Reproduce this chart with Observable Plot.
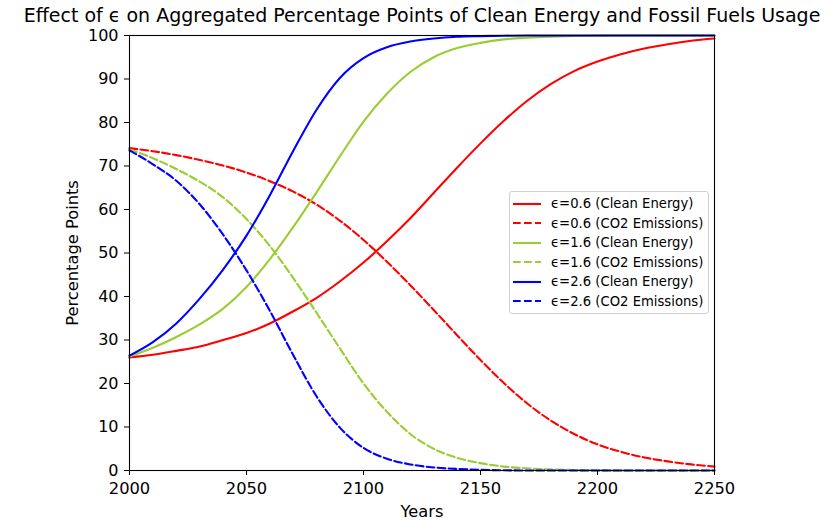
<!DOCTYPE html>
<html><head><meta charset="utf-8">
<script src="https://cdn.jsdelivr.net/npm/d3@7"></script>
<script src="https://cdn.jsdelivr.net/npm/@observablehq/plot@0.6"></script>
<style>
body{margin:0;background:#fff;font-family:"DejaVu Sans",sans-serif}
#wrap{position:relative;width:838px;height:520px}
#legend{position:absolute;left:509px;top:191px;width:198px;height:121px;border:1px solid #d0d0d0;border-radius:3px;background:rgba(255,255,255,0.85)}
.row{position:absolute;left:0;height:19px;display:flex;align-items:center;font-size:13.2px;color:#000;white-space:nowrap}
.row svg{margin-left:3px;margin-right:10px}
</style></head><body><div id="wrap"></div><script>
const years = [2000,2010,2020,2030,2040,2050,2060,2070,2080,2090,2100,2110,2120,2130,2140,2150,2160,2170,2180,2190,2200,2210,2220,2230,2240,2250];
const clean06 = [26.0,26.6,27.5,28.5,30.0,31.6,33.8,36.6,39.7,43.5,47.8,52.7,58.0,63.8,69.6,75.2,80.4,85.0,88.8,91.8,94.0,95.7,97.0,98.0,98.8,99.3];
const co2_06  = [74.1,73.4,72.5,71.4,70.1,68.5,66.5,64.1,61.1,57.4,53.0,48.0,42.6,36.9,31.1,25.4,20.1,15.4,11.5,8.4,6.0,4.3,3.0,2.1,1.4,0.9];
const clean16 = [26.2,28.2,30.7,33.6,37.2,42.2,48.6,56.0,64.0,72.3,80.2,86.6,91.6,95.0,97.1,98.3,99.1,99.5,99.75,99.9,99.95,100,100,100,100,100];
const co2_16  = [73.8,71.8,69.3,66.4,62.8,57.8,51.6,44.2,36.2,28.0,20.0,13.5,8.4,5.0,2.9,1.7,0.9,0.5,0.25,0.1,0.05,0,0,0,0,0];
const clean26 = [26.4,29.5,33.8,39.5,46.2,54.0,63.3,73.5,83.0,90.3,94.8,97.3,98.6,99.3,99.7,99.85,99.95,100,100,100,100,100,100,100,100,100];
const co2_26  = [73.6,70.4,66.6,61.2,54.2,46.0,36.7,26.5,17.0,9.8,5.2,2.7,1.4,0.7,0.35,0.15,0.05,0,0,0,0,0,0,0,0,0];
const labels = ["ϵ=0.6 (Clean Energy)","ϵ=0.6 (CO2 Emissions)","ϵ=1.6 (Clean Energy)","ϵ=1.6 (CO2 Emissions)","ϵ=2.6 (Clean Energy)","ϵ=2.6 (CO2 Emissions)"];
const colors = ["#ff0000","#ff0000","#9acd32","#9acd32","#0000ff","#0000ff"];
const dashed = [false,true,false,true,false,true];
const seriesVals = [clean06,co2_06,clean16,co2_16,clean26,co2_26];
const xTicks = [2000,2050,2100,2150,2200,2250];
const yTicks = [0,10,20,30,40,50,60,70,80,90,100];
const title = "Effect of ϵ on Aggregated Percentage Points of Clean Energy and Fossil Fuels Usage";

const lineMarks = seriesVals.map((vals,k) => Plot.line(vals, {
  x: (d,i) => years[i], y: d => d,
  stroke: colors[k], strokeWidth: 2.1,
  strokeDasharray: dashed[k] ? "7.7,3.3" : null,
  curve: "monotone-x"
}));

const chart = Plot.plot({
  width: 838, height: 520,
  marginLeft: 129, marginRight: 124, marginTop: 35, marginBottom: 50,
  style: {fontFamily: "DejaVu Sans", fontSize: "16px", color: "black", background: "white"},
  x: {domain: [2000, 2250]},
  y: {domain: [0, 100]},
  marks: [
    ...lineMarks,
    Plot.frame({stroke: "black", strokeWidth: 1.1}),
    Plot.axisX({ticks: xTicks, tickSize: 5, tickPadding: 6.5, tickFormat: d => String(d), label: null, fontSize: 16.3}),
    Plot.axisY({ticks: yTicks, tickSize: 5, tickPadding: 6, tickFormat: d => String(d), label: null, fontSize: 16}),
    Plot.text(["Years"], {frameAnchor: "bottom", lineAnchor: "middle", dy: 41, fontSize: 16.3, fill: "black"}),
    Plot.text(["Percentage Points"], {frameAnchor: "left", textAnchor: "middle", lineAnchor: "middle", dx: -57, rotate: -90, fontSize: 16.3, fill: "black"}),
    Plot.text([title], {frameAnchor: "top", lineAnchor: "middle", dy: -20, fontSize: 19, fill: "black"})
  ]
});
const wrap = document.getElementById("wrap");
wrap.appendChild(chart);

const legend = document.createElement("div");
legend.id = "legend";
labels.forEach((lab,k) => {
  const row = document.createElement("div");
  row.className = "row";
  row.style.top = (2.2 + k*19.5) + "px";
  row.innerHTML = `<svg width="28" height="10"><line x1="0" y1="5" x2="28" y2="5" stroke="${colors[k]}" stroke-width="2.1" ${dashed[k] ? 'stroke-dasharray="7.7,3.3"' : ''}/></svg><span>${lab}</span>`;
  legend.appendChild(row);
});
wrap.appendChild(legend);
</script></body></html>
